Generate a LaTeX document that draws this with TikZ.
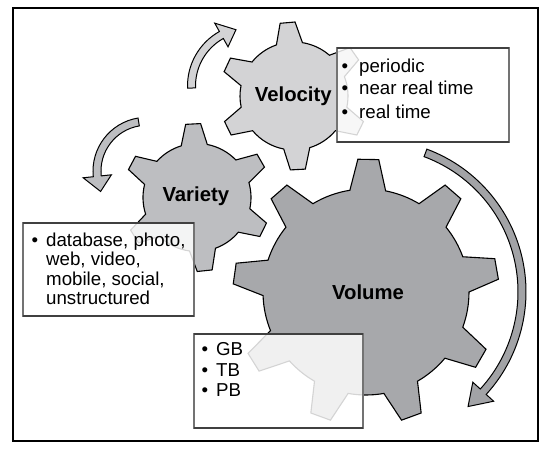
\documentclass[tikz,border=0pt]{standalone}
\usepackage{fontspec}
\setmainfont{Liberation Sans}
\definecolor{velc}{HTML}{D3D3D5}
\definecolor{varc}{HTML}{BDBEC1}
\definecolor{volc}{HTML}{A7A8AB}
\definecolor{bigarr}{HTML}{A2A3A6}
\begin{document}
\begin{tikzpicture}[x=1pt,y=1pt,
  gearline/.style={draw=black, line width=1.1pt, line join=miter},
  arrowline/.style={draw=black, line width=1pt, line join=miter},
  infobox/.style={fill=white, fill opacity=0.83, draw=black!55, line width=1.1pt},
  boxedge/.style={draw=black!75, line width=1.3pt},
  txt/.style={anchor=base west, inner sep=0pt, font=\fontsize{18.7}{22}\selectfont},
  bul/.style={anchor=base, inner sep=0pt, font=\fontsize{18.7}{22}\selectfont},
  lab/.style={anchor=base, inner sep=0pt, font=\bfseries\fontsize{20.3}{24}\selectfont}]
\useasboundingbox (0,0) rectangle (547,452);
\fill[white] (0,0) rectangle (547,452);

% Velocity gear
\begin{scope}[shift={(294,356)}]
\draw[gearline, fill=velc] (21:54pt)
  \foreach \t/\n [evaluate=\t as \ta using \t+14, evaluate=\n as \tb using \n-14] in
  {35/95,95/155,155/206,206/273,273/334,334/395}
  { -- (\t-5.8:74pt) -- (\t+5.8:74pt) -- (\ta:54pt) arc[start angle=\ta, end angle=\tb, radius=54pt] } -- cycle;
\end{scope}

% Variety gear
\begin{scope}[shift={(197,254.5)}]
\draw[gearline, fill=varc] (16:54pt)
  \foreach \t/\n [evaluate=\t as \ta using \t+14, evaluate=\n as \tb using \n-14] in
  {30/93,93/152,152/212,212/276,276/334,334/390}
  { -- (\t-5.8:74pt) -- (\t+5.8:74pt) -- (\ta:54pt) arc[start angle=\ta, end angle=\tb, radius=54pt] } -- cycle;
\end{scope}

% Volume gear
\begin{scope}[shift={(366,160)}]
\draw[gearline, fill=volc] (0:103pt)
  \foreach \t/\n [evaluate=\t as \ta using \t+10, evaluate=\n as \tb using \n-10] in
  {10/49,49/89,89/131,131/172,172/212,212/250,250/290,290/330,330/370}
  { -- (\t-4.5:133pt) -- (\t+4.5:133pt) -- (\ta:103pt) arc[start angle=\ta, end angle=\tb, radius=103pt] } -- cycle;
\end{scope}

% curved arrows
\begin{scope}[shift={(250,366)}]
\draw[arrowline, fill=velc] (182:62.5pt) arc[start angle=182, end angle=119.3, radius=62.5pt]
  -- (119.3:72.1pt) -- (104:58pt) -- (119.3:44.9pt) -- (119.3:54.5pt)
  arc[start angle=119.3, end angle=182, radius=54.5pt] -- cycle;
\end{scope}
\begin{scope}[shift={(146.8,280.9)}]
\draw[arrowline, fill=varc] (99.4:53.8pt) arc[start angle=99.4, end angle=186, radius=53.8pt]
  -- (186:64pt) -- (203.8:50.5pt) -- (186:35.6pt) -- (186:45.8pt)
  arc[start angle=186, end angle=99.4, radius=45.8pt] -- cycle;
\end{scope}
\begin{scope}[shift={(373.8,160.2)}]
\draw[arrowline, fill=bigarr] (69.6:152.2pt) arc[start angle=69.6, end angle=-42.4, radius=152.2pt]
  -- (-42.4:162.3pt) -- (-50.6:148.5pt) -- (-42.4:134.1pt) -- (-42.4:144.2pt)
  arc[start angle=-42.4, end angle=69.6, radius=144.2pt] -- cycle;
\end{scope}

% info boxes
\draw[infobox] (337,310) rectangle (509,404);
\draw[boxedge] (337,404) -- (509,404) (337,310) -- (509,310);
\draw[infobox] (23,136) rectangle (194,229);
\draw[boxedge] (23,229) -- (194,229) (23,136) -- (194,136);
\draw[infobox] (194,24) rectangle (363,118);
\draw[boxedge] (194,118) -- (363,118) (194,24) -- (363,24);

% gear labels
\node[lab] (velocity) at (293.3,350.5) {Velocity};
\node[lab] (variety) at (195.8,250.3) {Variety};
\node[lab] (volume) at (368,152) {Volume};

% velocity list
\node[bul] (velb1) at (345,379.7) {•};
\node[bul] (velb2) at (345,357) {•};
\node[bul] (velb3) at (345,333.7) {•};
\node[txt] (velt1) at (359,379.7) {periodic};
\node[txt] (velt2) at (359,357) {near real time};
\node[txt] (velt3) at (359,333.7) {real time};

% variety list
\node[bul] (varb1) at (35,205.5) {•};
\node[txt] (vart1) at (46,205.5) {database, photo,};
\node[txt] (vart2) at (46,186) {web, video,};
\node[txt] (vart3) at (46,166.5) {mobile, social,};
\node[txt] (vart4) at (46,147) {unstructured};

% volume list
\node[bul] (volb1) at (205,96) {•};
\node[bul] (volb2) at (205,75) {•};
\node[bul] (volb3) at (205,55) {•};
\node[txt] (volt1) at (216,96) {GB};
\node[txt] (volt2) at (216,75) {TB};
\node[txt] (volt3) at (216,55) {PB};

% frame
\draw[line width=1.4pt] (13,11) rectangle (538,444);
\end{tikzpicture}
\end{document}
